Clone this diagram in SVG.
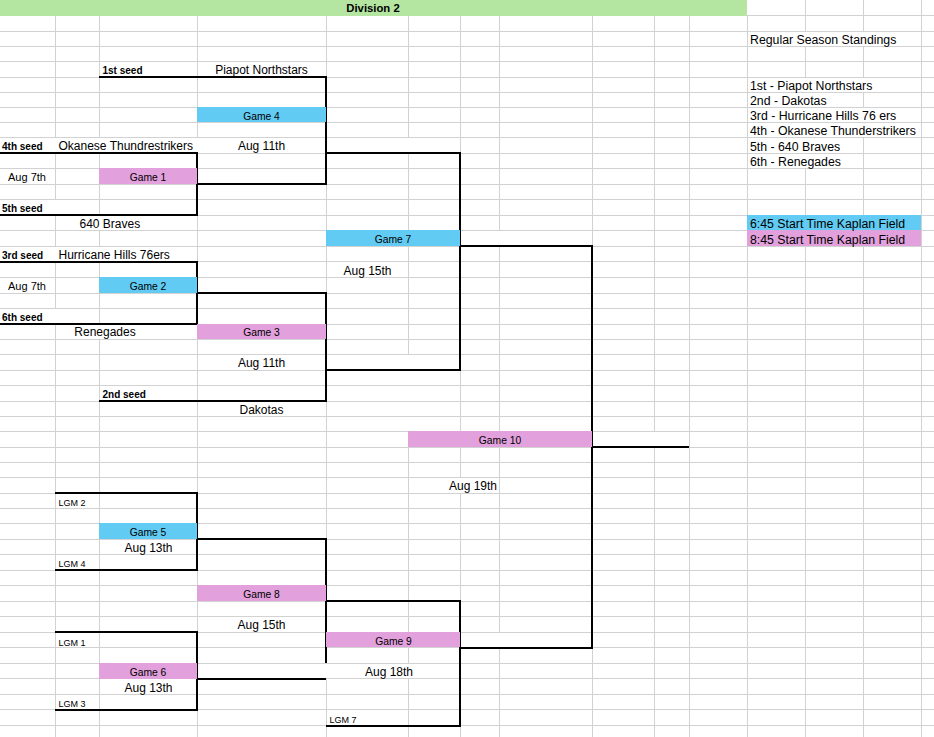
<svg xmlns="http://www.w3.org/2000/svg" width="934" height="737" viewBox="0 0 934 737">
<style>
.grid{stroke:#d2d2d2;stroke-width:1;fill:none}
.br{stroke:#000;stroke-width:2;fill:none;stroke-linejoin:miter;stroke-linecap:butt}
text{font-family:"Liberation Sans",Arial,sans-serif;fill:#000}
.tm{font-size:12px}
.st{font-size:12.3px}
.gm{font-size:10.3px;text-anchor:middle}
.mid{text-anchor:middle}
.sd{font-size:10px;font-weight:bold}
.lg{font-size:9px}
.d7{font-size:11px;text-anchor:middle}
.blue{fill:#62CBF3}
.pink{fill:#E2A0DC}
.green{fill:#B4E6A1}
</style>
<rect x="0" y="0" width="934" height="737" fill="#fff"/>
<g id="gridlines" class="grid">
<path d="M747 15.5H934 M0 31.5H934 M0 46.5H934 M0 61.5H934 M0 77.5H934 M0 92.5H934 M0 107.5H934 M0 122.5H934 M0 137.5H934 M0 153.5H934 M0 168.5H934 M0 184.5H934 M0 199.5H934 M0 215.5H934 M0 230.5H934 M0 246.5H934 M0 261.5H934 M0 277.5H934 M0 293.5H934 M0 308.5H934 M0 324.5H934 M0 339.5H934 M0 354.5H934 M0 370.5H934 M0 385.5H934 M0 401.5H934 M0 416.5H934 M0 431.5H934 M0 447.5H934 M0 462.5H934 M0 477.5H934 M0 493.5H934 M0 508.5H934 M0 523.5H934 M0 539.5H934 M0 554.5H934 M0 570.5H934 M0 585.5H934 M0 601.5H934 M0 616.5H934 M0 632.5H934 M0 647.5H934 M0 663.5H934 M0 678.5H934 M0 694.5H934 M0 709.5H934 M0 725.5H934"/>
<path d="M55.5 16V138 M55.5 153V200 M55.5 215V247 M55.5 261V309 M55.5 324V737 M99.5 16V138 M99.5 153V216 M99.5 230V247 M99.5 261V325 M99.5 339V737 M197.5 16V138 M197.5 153V737 M326.5 16V664 M326.5 678V737 M408.5 16V138 M408.5 153V355 M408.5 431V664 M408.5 678V737 M460.5 16V478 M460.5 493V737 M499.5 16V231 M499.5 246V633 M499.5 647V737 M592.5 16V737 M654.5 16V432 M654.5 447V737 M689.5 16V737 M747.5 16V737 M805.5 0V32 M805.5 46V78 M805.5 168V737 M863.5 0V32 M863.5 46V78 M863.5 92V108 M863.5 137V737 M921.5 0V737"/>
</g>
<g id="header">
<rect class="green" x="0" y="0" width="747" height="16"/>
<text x="373" y="12" class="mid" style="font-size:11.3px;font-weight:bold">Division 2</text>
</g>
<g id="standings">
<text class="st" x="750" y="44">Regular Season Standings</text>
<text class="st" x="750" y="90">1st - Piapot Northstars</text>
<text class="st" x="750" y="105">2nd - Dakotas</text>
<text class="st" x="750" y="120">3rd - Hurricane Hills 76 ers</text>
<text class="st" x="750" y="135">4th - Okanese Thunderstrikers</text>
<text class="st" x="750" y="150.5">5th - 640 Braves</text>
<text class="st" x="750" y="165.5">6th - Renegades</text>
</g>
<g id="legend">
<rect class="blue" x="747" y="215" width="174" height="15"/>
<rect class="pink" x="747" y="230" width="174" height="16"/>
<text class="st" x="750" y="228">6:45 Start Time Kaplan Field</text>
<text class="st" x="750" y="243.5">8:45 Start Time Kaplan Field</text>
</g>
<g id="connectors" class="br">
<path d="M99 77H326V184H197"/>
<path d="M0 153H197V215H0"/>
<path d="M326 153H460V370H326"/>
<path d="M460 246H592V648H460"/>
<path d="M592 447H689"/>
<path d="M0 262H197V324H0"/>
<path d="M197 293H326V401H99"/>
<path d="M55 493H197V570H55"/>
<path d="M197 539H326V663"/>
<path d="M55 632H197V710H55"/>
<path d="M197 679H326"/>
<path d="M326 601H460V726H326"/>
</g>
<g id="seed1"><text class="sd" x="102.5" y="74">1st seed</text><text class="tm mid" x="261.5" y="74">Piapot Northstars</text></g>
<g id="seed4"><text class="sd" x="2" y="150">4th seed</text><text class="tm" x="58.5" y="150">Okanese Thundrestrikers</text></g>
<g id="seed5"><text class="sd" x="2" y="212">5th seed</text><text class="tm" x="79.5" y="228">640 Braves</text></g>
<g id="seed3"><text class="sd" x="2" y="258.5">3rd seed</text><text class="tm" x="58.5" y="258.5">Hurricane Hills 76ers</text></g>
<g id="seed6"><text class="sd" x="2" y="321">6th seed</text><text class="tm mid" x="105" y="336">Renegades</text></g>
<g id="seed2"><text class="sd" x="102.5" y="397.5">2nd seed</text><text class="tm mid" x="261.5" y="413.5">Dakotas</text></g>
<g id="game1"><rect class="pink" x="99" y="168" width="98" height="16"/><text class="gm" x="148" y="181">Game 1</text><text class="d7" x="27" y="181">Aug 7th</text></g>
<g id="game2"><rect class="blue" x="99" y="277" width="98" height="16"/><text class="gm" x="148" y="289.5">Game 2</text><text class="d7" x="27" y="289.5">Aug 7th</text></g>
<g id="game3"><rect class="pink" x="197" y="324" width="129" height="15"/><text class="gm" x="261.5" y="336">Game 3</text><text class="tm mid" x="261.5" y="366.5">Aug 11th</text></g>
<g id="game4"><rect class="blue" x="197" y="107" width="129" height="15"/><text class="gm" x="261.5" y="119.5">Game 4</text><text class="tm mid" x="261.5" y="150">Aug 11th</text></g>
<g id="game7"><rect class="blue" x="326" y="230" width="134" height="16"/><text class="gm" x="393" y="243">Game 7</text><text class="tm mid" x="367.5" y="274.5">Aug 15th</text></g>
<g id="game10"><rect class="pink" x="408" y="431" width="184" height="16"/><text class="gm" x="500" y="443.5">Game 10</text><text class="tm mid" x="473" y="490">Aug 19th</text></g>
<g id="game5"><rect class="blue" x="99" y="523" width="98" height="16"/><text class="gm" x="148" y="535.5">Game 5</text><text class="tm mid" x="148.5" y="551.5">Aug 13th</text><text class="lg" x="58.5" y="506">LGM 2</text><text class="lg" x="58.5" y="566.5">LGM 4</text></g>
<g id="game6"><rect class="pink" x="99" y="663" width="98" height="16"/><text class="gm" x="148" y="676">Game 6</text><text class="tm mid" x="148.5" y="691.5">Aug 13th</text><text class="lg" x="58.5" y="645.5">LGM 1</text><text class="lg" x="58.5" y="707">LGM 3</text></g>
<g id="game8"><rect class="pink" x="197" y="585" width="129" height="16"/><text class="gm" x="261.5" y="598">Game 8</text><text class="tm mid" x="261.5" y="628.5">Aug 15th</text></g>
<g id="game9"><rect class="pink" x="326" y="632" width="134" height="15"/><text class="gm" x="393.5" y="644.5">Game 9</text><text class="tm mid" x="389" y="675.5">Aug 18th</text><text class="lg" x="329.5" y="723">LGM 7</text></g>
</svg>
